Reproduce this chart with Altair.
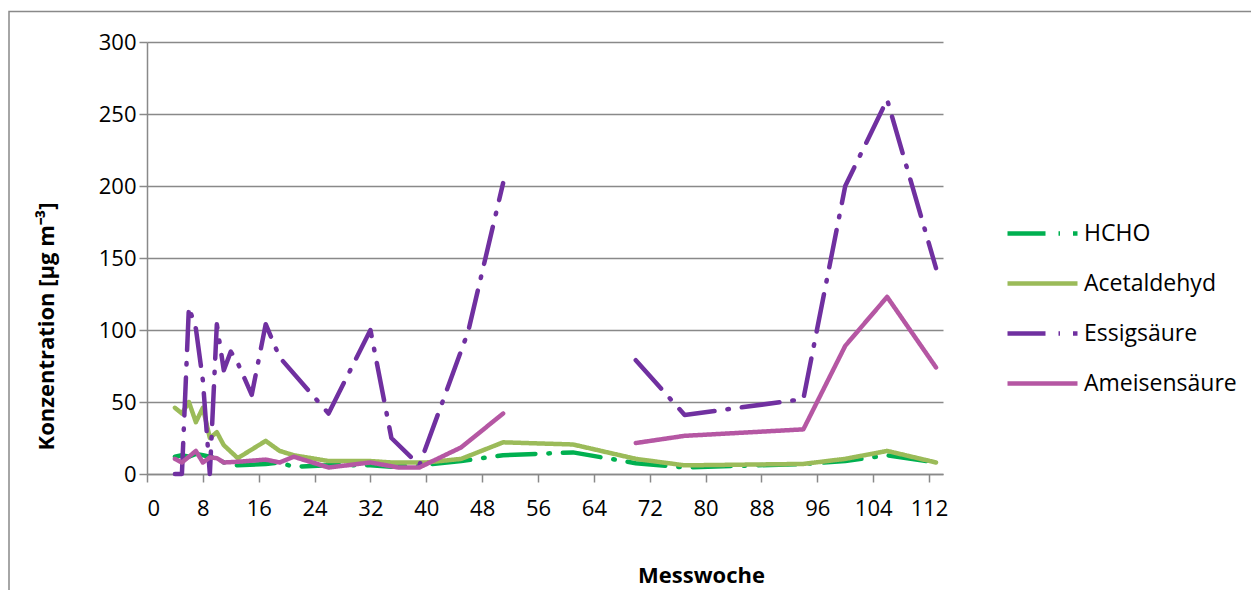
import altair as alt
import pandas as pd

series_names = ["HCHO", "Acetaldehyd", "Essigsäure", "Ameisensäure"]
series_colors = ["#00B050", "#9BBB59", "#7030A0", "#B557A3"]

hcho_weeks = [4, 5, 6, 7, 8, 9, 10, 11, 13, 17, 19, 21, 26, 32, 35, 39, 45, 51, 61, 70, 77, 94, 100, 106, 113]
hcho_vals = [12, 13, 12, 14, 13, 12, 12, 8, 6, 7, 8, 5, 6, 6, 5, 6, 9, 13, 15, 7.5, 4.5, 7, 9, 13, 8]

acet_weeks = [4, 5, 6, 7, 8, 9, 10, 11, 13, 17, 19, 21, 26, 32, 35, 40, 45, 51, 61, 70, 77, 94, 100, 106, 113]
acet_vals = [46, 42, 50, 36, 46, 25, 29, 20, 11, 23, 16, 13, 9, 9, 8, 8, 10.5, 22, 20.5, 10.5, 6, 7, 10.5, 16, 8]

essig_weeks = [4, 5, 6, 7, 8, 9, 10, 11, 12, 13, 15, 17, 19, 26, 32, 35, 39, 46, 51, 61, 70, 77, 94, 100, 106, 113]
essig_vals = [0, 0, 116, 101, 65, 0, 104, 72, 85, 77, 55, 104, 81, 42, 100, 25, 6, 99, 202, None, 79, 41, 52, 200, 260, 143]

ameis_weeks = [4, 5, 6, 7, 8, 9, 10, 11, 13, 17, 19, 21, 26, 32, 36, 39, 45, 51, 61, 70, 77, 94, 100, 106, 113]
ameis_vals = [10.5, 8, 12, 16, 8, 11.5, 11, 8, 8.5, 10, 8, 12, 4.5, 8, 4.5, 4.5, 18.5, 42, None, 21.5, 26.5, 31, 89, 123, 74]

x_ticks = [0, 8, 16, 24, 32, 40, 48, 56, 64, 72, 80, 88, 96, 104, 112]
y_ticks = [0, 50, 100, 150, 200, 250, 300]

rows = []
seg = 0
for name, weeks, vals in zip(series_names,
                             [hcho_weeks, acet_weeks, essig_weeks, ameis_weeks],
                             [hcho_vals, acet_vals, essig_vals, ameis_vals]):
    seg += 1
    for w, v in zip(weeks, vals):
        if v is None:
            seg += 1
            continue
        rows.append({"series": name, "week": w, "value": v, "seg": f"{name}-{seg}"})
df = pd.DataFrame(rows)

FONT = "Open Sans"
GRAY = "#898989"
dash_ld = [38, 13, 1.5, 13]

legend = alt.Legend(
    title=None, orient="none", legendX=858, legendY=154, direction="vertical",
    symbolType="stroke", symbolSize=4900, symbolStrokeWidth=4.5,
    labelFont=FONT, labelFontSize=23, labelColor="#000000", labelOffset=4,
    rowPadding=0, padding=0,
)

border = alt.Chart(pd.DataFrame({"a": [0]})).mark_rect(
    filled=False, stroke=GRAY, strokeWidth=1.5, clip=False
).encode(x=alt.value(-138), x2=alt.value(1400), y=alt.value(-30.5), y2=alt.value(800))

lines = alt.Chart(df).mark_line(strokeWidth=4.5, strokeCap="round", strokeJoin="round").encode(
    x=alt.X("week:Q", scale=alt.Scale(domain=[0, 114], nice=False, zero=False),
            axis=alt.Axis(values=x_ticks, title="Messwoche", grid=False, tickSize=8, labelPadding=16,
                          titleX=554, titleY=108, titleBaseline="alphabetic", titleAlign="center",
                          titleAnchor="start")),
    y=alt.Y("value:Q", scale=alt.Scale(domain=[0, 300], nice=False),
            axis=alt.Axis(values=y_ticks, title="Konzentration [µg m⁻³]", grid=True, tickSize=8,
                          labelPadding=3, titleAngle=270, titleX=-94, titleY=284,
                          titleBaseline="alphabetic", titleAlign="center", titleAnchor="start")),
    color=alt.Color("series:N", scale=alt.Scale(domain=series_names, range=series_colors), legend=legend),
    strokeDash=alt.StrokeDash("series:N", scale=alt.Scale(domain=series_names,
                                                          range=[dash_ld, [1, 0], dash_ld, [1, 0]]),
                              legend=legend),
    detail="seg:N",
    order="week:Q",
)

chart = alt.layer(border, lines).properties(
    width=796, height=432,
    autosize=alt.AutoSizeParams(type="none"),
    padding={"left": 139, "top": 34, "right": 308, "bottom": 124},
    background="white",
).configure_view(stroke=None).configure_axis(
    domainColor=GRAY, domainWidth=1.5, tickColor=GRAY, tickWidth=1.5,
    gridColor=GRAY, gridWidth=1.5,
    labelFont=FONT, labelFontSize=22, labelColor="#000000",
    titleFont=FONT, titleFontSize=22, titleFontWeight="bold", titleColor="#000000",
)

chart.save("out.html", embed_options={"renderer": "svg", "actions": False})
